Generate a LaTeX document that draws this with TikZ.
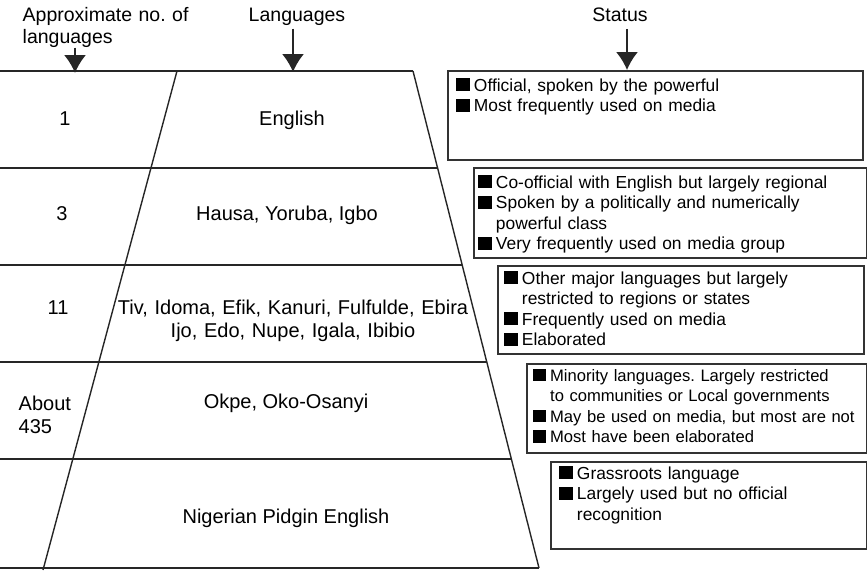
\documentclass[tikz,border=0pt]{standalone}
\usepackage{fontspec}
\setmainfont{Liberation Sans}
\usetikzlibrary{arrows.meta}
\frenchspacing
\newcommand{\sqb}{\rule{0.8em}{0.74em}\hspace{0.25em}}
\newcommand{\sqi}{\hphantom{\sqb}}

\begin{document}
\begin{tikzpicture}[x=1pt,y=-1pt,line width=1.4pt,draw=black!85,
  every node/.style={inner sep=0pt,text=black},
  pyrtext/.style={font=\fontsize{20}{23}\selectfont,align=center,anchor=base},
  headtext/.style={font=\fontsize{19.5}{22}\selectfont,anchor=base},
  statbox/.style={draw=black!80,line width=1.5pt,anchor=north west},
  stattext/.style={font=\fontsize{17.4}{20.5}\selectfont,anchor=base west,text width=420pt,align=left},
  hdarrow/.style={-{Latex[length=18pt,width=22pt]},line width=1.7pt}]
\useasboundingbox (0,0) rectangle (867,573);

% pyramid
\foreach \yy/\xr in {71/413,168/437.6,265/462.2,362/486.8,459/511.4,568/539} \draw (0,\yy) -- (\xr,\yy);
\draw (177,71) -- (43,570); \draw (413,71) -- (539,568);

% headings
\node[headtext,anchor=base west,text width=180pt,align=left] (hdnum) at (22,21) {Approximate no. of\\languages};
\node[headtext] (hdlang) at (297,21) {Languages};
\node[headtext] (hdstat) at (620,21) {Status};
\coordinate (numtip) at (75,73); \coordinate (langtip) at (293,72); \coordinate (stattip) at (627,70);
\draw[hdarrow] (hdnum.south -| numtip) -- (numtip);
\draw[hdarrow] ([yshift=-3pt]hdlang.south -| langtip) -- (langtip);
\draw[hdarrow] ([yshift=-7pt]hdstat.south -| stattip) -- (stattip);

% numbers and languages
\node[pyrtext] (n1) at (65,125) {1};
\node[pyrtext] (l1) at (292,125) {English};
\node[pyrtext] (n2) at (62,220) {3};
\node[pyrtext] (l2) at (287,220) {Hausa, Yoruba, Igbo};
\node[pyrtext] (n3) at (58,314) {11};
\node[pyrtext,text width=360pt] (l3) at (293,314) {Tiv, Idoma, Efik, Kanuri, Fulfulde, Ebira\\Ijo, Edo, Nupe, Igala, Ibibio};
\node[pyrtext,anchor=base west,text width=60pt,align=left] (n4) at (18,410) {About\\435};
\node[pyrtext] (l4) at (286,408) {Okpe, Oko-Osanyi};
\node[pyrtext] (l5) at (286,523) {Nigerian Pidgin English};

% status boxes
\node[statbox,minimum width=415pt,minimum height=89pt] (st1) at (447,70) {};
\node[statbox,minimum width=393pt,minimum height=90pt] (st2) at (473,167) {};
\node[statbox,minimum width=366pt,minimum height=88pt] (st3) at (497,265) {};
\node[statbox,minimum width=340pt,minimum height=89pt] (st4) at (526,363) {};
\node[statbox,minimum width=316pt,minimum height=87pt] (st5) at (550,461) {};
\node[stattext] (tx1) at ([shift={(8pt,-21pt)}]st1.north west) {\sqb Official, spoken by the powerful\\ \sqb Most frequently used on media};
\node[stattext] (tx2) at ([shift={(4pt,-21pt)}]st2.north west) {\sqb Co-official with English but largely regional\\ \sqb Spoken by a politically and numerically\\ \sqi powerful class\\ \sqb Very frequently used on media group};
\node[stattext] (tx3) at ([shift={(6pt,-19pt)}]st3.north west) {\sqb Other major languages but largely\\ \sqi restricted to regions or states\\ \sqb Frequently used on media\\ \sqb Elaborated};
\node[stattext,font=\fontsize{16.6}{20.5}\selectfont] (tx4) at ([shift={(6pt,-18pt)}]st4.north west) {\sqb Minority languages. Largely restricted\\ \sqi to communities or Local governments\\ \sqb May be used on media, but most are not\\ \sqb Most have been elaborated};
\node[stattext] (tx5) at ([shift={(8pt,-18pt)}]st5.north west) {\sqb Grassroots language\\ \sqb Largely used but no official\\ \sqi recognition};
\end{tikzpicture}
\end{document}
